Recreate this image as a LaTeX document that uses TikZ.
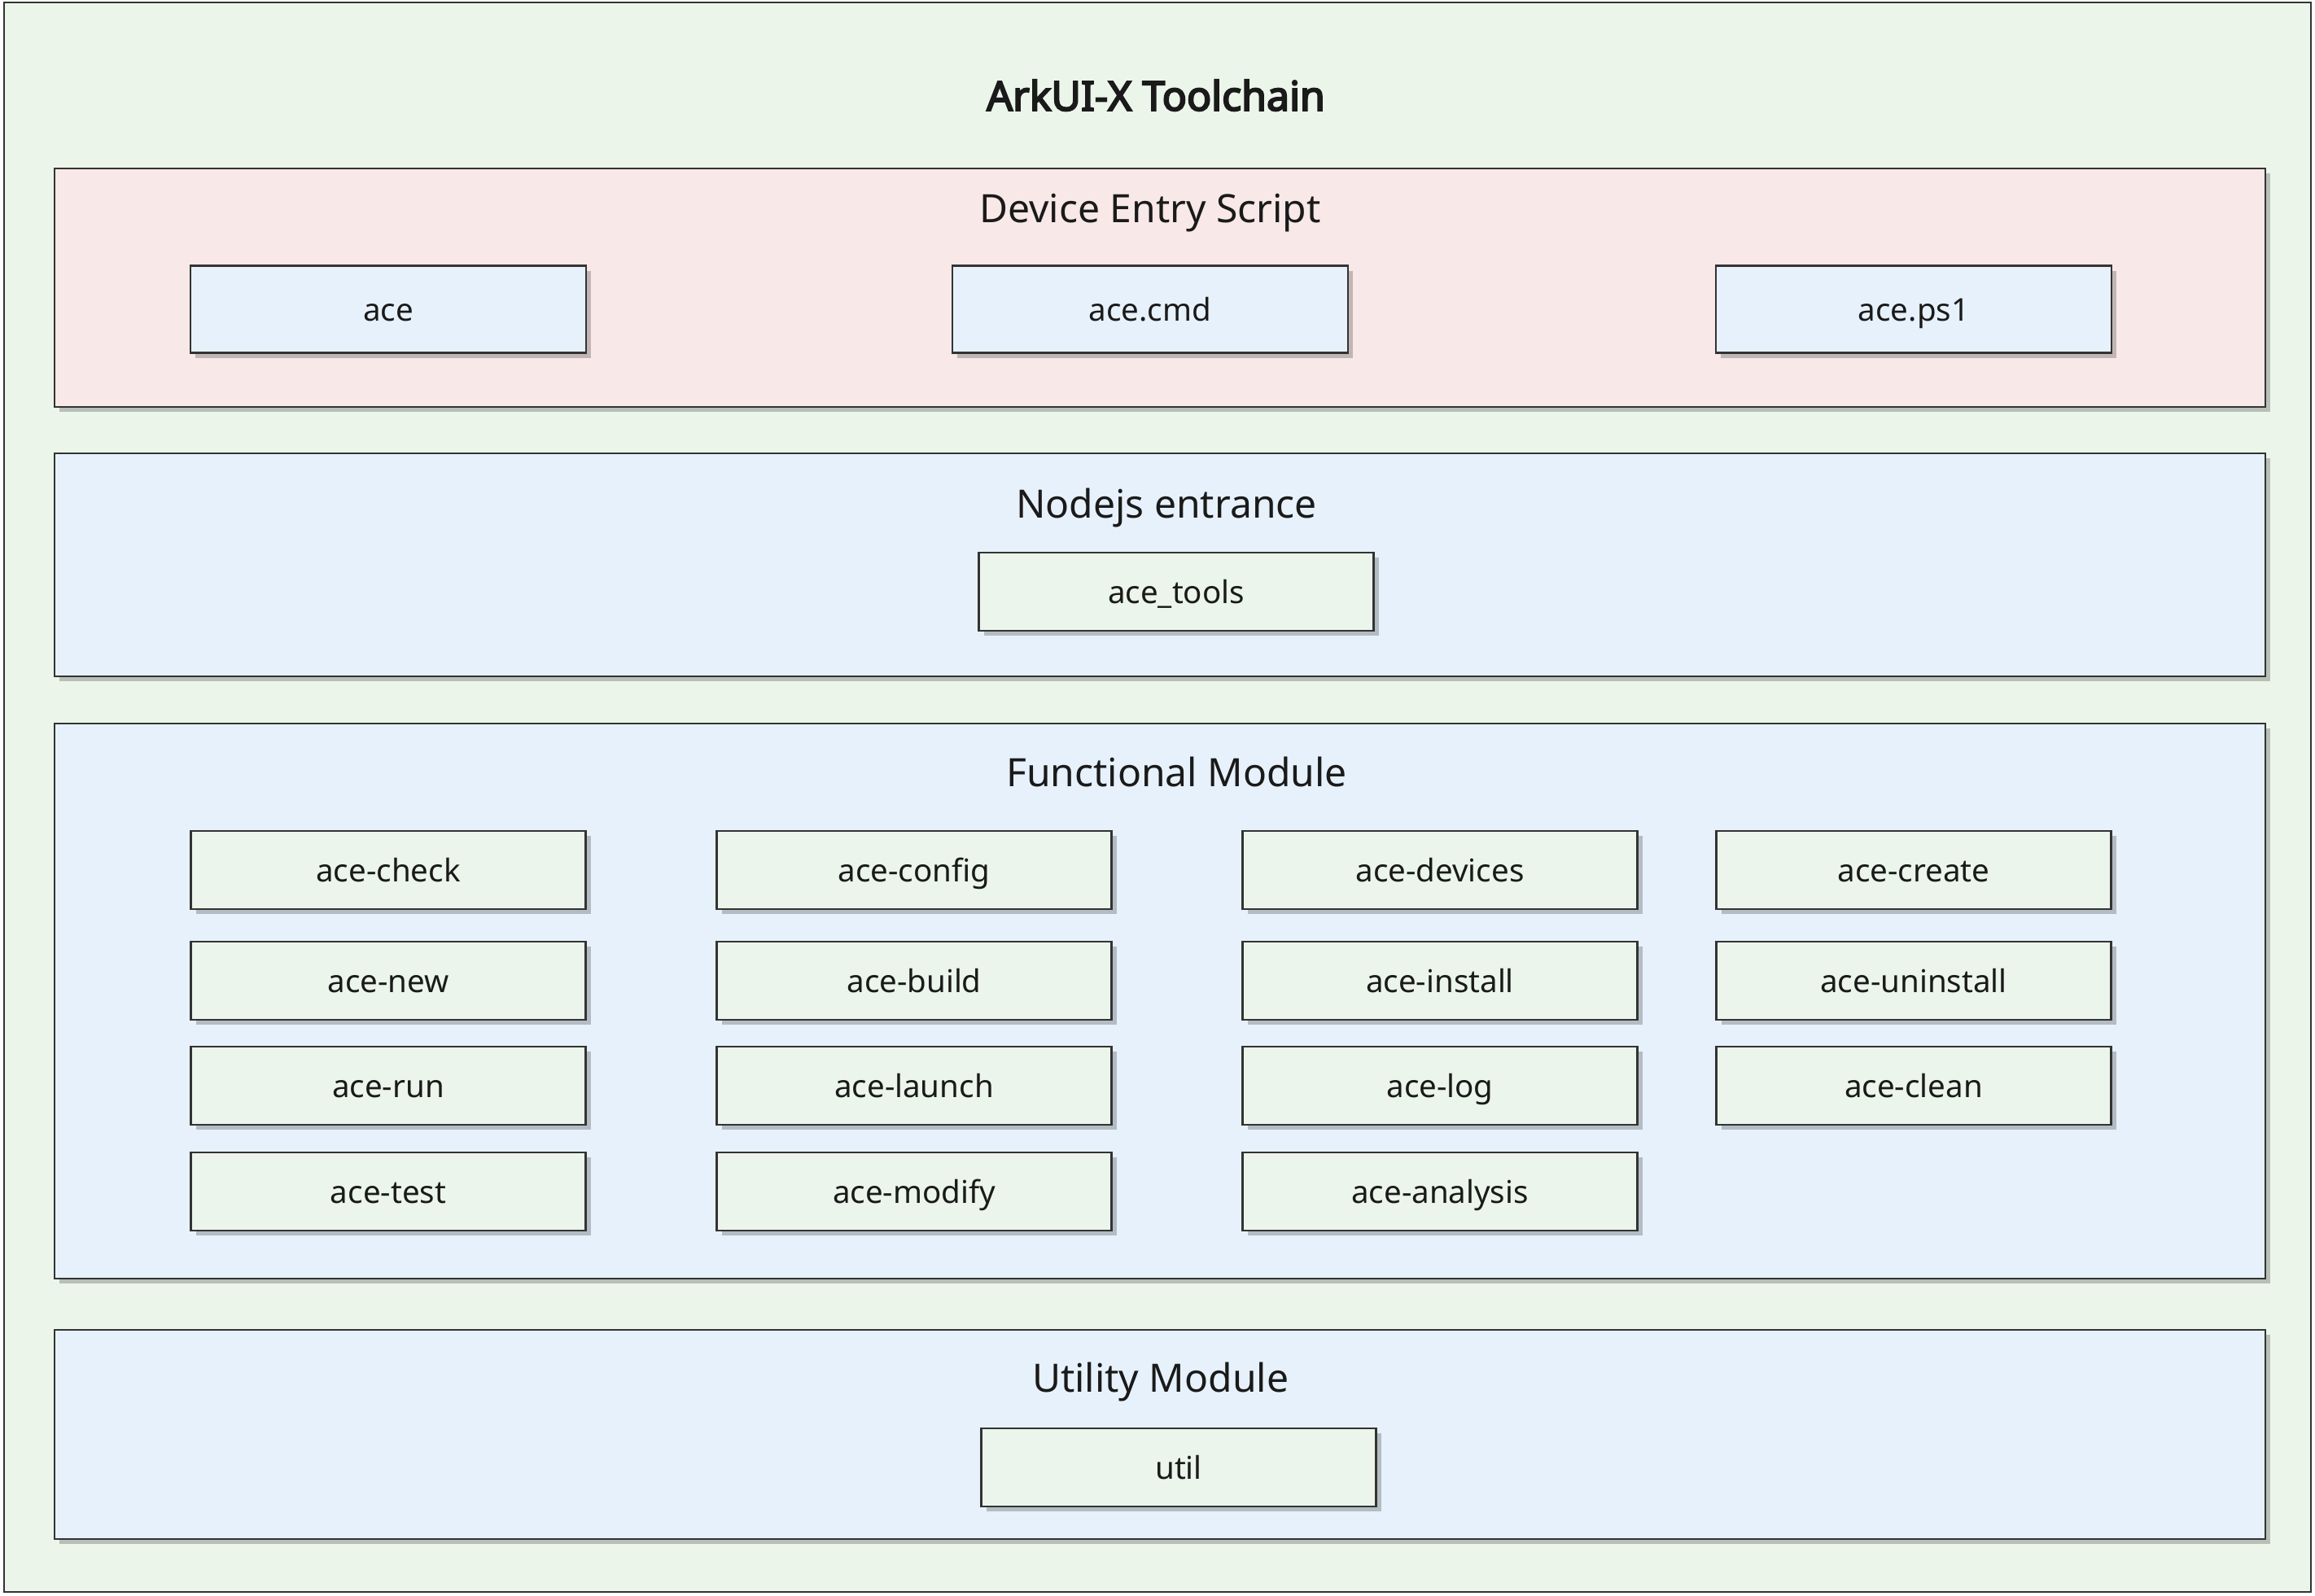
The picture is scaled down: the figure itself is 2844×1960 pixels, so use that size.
\documentclass[tikz,border=0pt]{standalone}
\usepackage{fontspec}
\setmainfont{Noto Sans}[AutoFakeBold=4]
\usetikzlibrary{shadows}
\definecolor{outerbg}{HTML}{EBF5EA}
\definecolor{pinkbg}{HTML}{F9E8E8}
\definecolor{bluebg}{HTML}{E7F1FB}
\definecolor{greenbox}{HTML}{EBF5EB}
\definecolor{edge}{HTML}{333333}
\definecolor{txt}{HTML}{1A1A1A}
\tikzset{
  shad/.style={drop shadow={shadow xshift=6pt, shadow yshift=-6pt, fill=black, opacity=0.22}},
  outerbox/.style={draw=edge, line width=2.2pt, fill=outerbg, inner sep=0pt, minimum width=2834pt, minimum height=1953pt},
  modbox/.style={draw=edge, line width=2.2pt, inner sep=0pt, minimum width=2716pt, shad},
  itembox/.style={draw=edge, line width=2.2pt, inner sep=0pt, minimum width=485pt, minimum height=96pt, shad,
    font=\fontsize{38.5}{46}\selectfont, text=txt, text height=29pt, text depth=0pt},
  greenitem/.style={itembox, fill=greenbox},
  blueitem/.style={itembox, fill=bluebg, minimum height=107pt, minimum width=486pt},
  modtitle/.style={inner sep=0pt, font=\fontsize{48}{58}\selectfont, text=txt, text height=34.3pt, text depth=0pt},
  maintitle/.style={inner sep=0pt, font=\fontsize{50}{60}\selectfont\bfseries, text=txt, text height=35.7pt, text depth=0pt}
}
\begin{document}
\begin{tikzpicture}[x=1pt, y=-1pt]
\path[use as bounding box, fill=white] (0,0) rectangle (2844,1960);
\node[outerbox] (outer) at (1422,979.5) {};
\node[maintitle] (title) at (1420,118) {ArkUI-X Toolchain};

% Device Entry Script
\node[modbox, fill=pinkbg, minimum height=293pt] (dev) at (1425,353.5) {};
\node[modtitle] (devt) at (1413,256.5) {Device Entry Script};
\node[blueitem] (ace) at (477,380) {ace};
\node[blueitem] (acecmd) at (1413,380) {ace.cmd};
\node[blueitem] (aceps) at (2351,380) {ace.ps1};

% Nodejs entrance
\node[modbox, fill=bluebg, minimum height=274pt] (nodejs) at (1425,694) {};
\node[modtitle] (nodejst) at (1433,619.5) {Nodejs entrance};
\node[greenitem] (acetools) at (1445,727) {ace\_tools};

% Functional Module
\node[modbox, fill=bluebg, minimum height=682pt] (func) at (1425,1230) {};
\node[modtitle] (funct) at (1445.6,949.6) {Functional Module};
\node[greenitem] (check) at (477,1069) {ace-check};
\node[greenitem] (config) at (1123,1069) {ace-config};
\node[greenitem] (devices) at (1769,1069) {ace-devices};
\node[greenitem] (create) at (2351,1069) {ace-create};
\node[greenitem] (new) at (477,1205) {ace-new};
\node[greenitem] (build) at (1123,1205) {ace-build};
\node[greenitem] (install) at (1769,1205) {ace-install};
\node[greenitem] (uninstall) at (2351,1205) {ace-uninstall};
\node[greenitem] (run) at (477,1334) {ace-run};
\node[greenitem] (launch) at (1123,1334) {ace-launch};
\node[greenitem] (log) at (1769,1334) {ace-log};
\node[greenitem] (clean) at (2351,1334) {ace-clean};
\node[greenitem] (test) at (477,1464) {ace-test};
\node[greenitem] (modify) at (1123,1464) {ace-modify};
\node[greenitem] (analysis) at (1769,1464) {ace-analysis};

% Utility Module
\node[modbox, fill=bluebg, minimum height=257pt] (utilm) at (1425,1762.5) {};
\node[modtitle] (utilt) at (1425.6,1693) {Utility Module};
\node[greenitem] (util) at (1448,1803) {util};
\end{tikzpicture}
\end{document}
